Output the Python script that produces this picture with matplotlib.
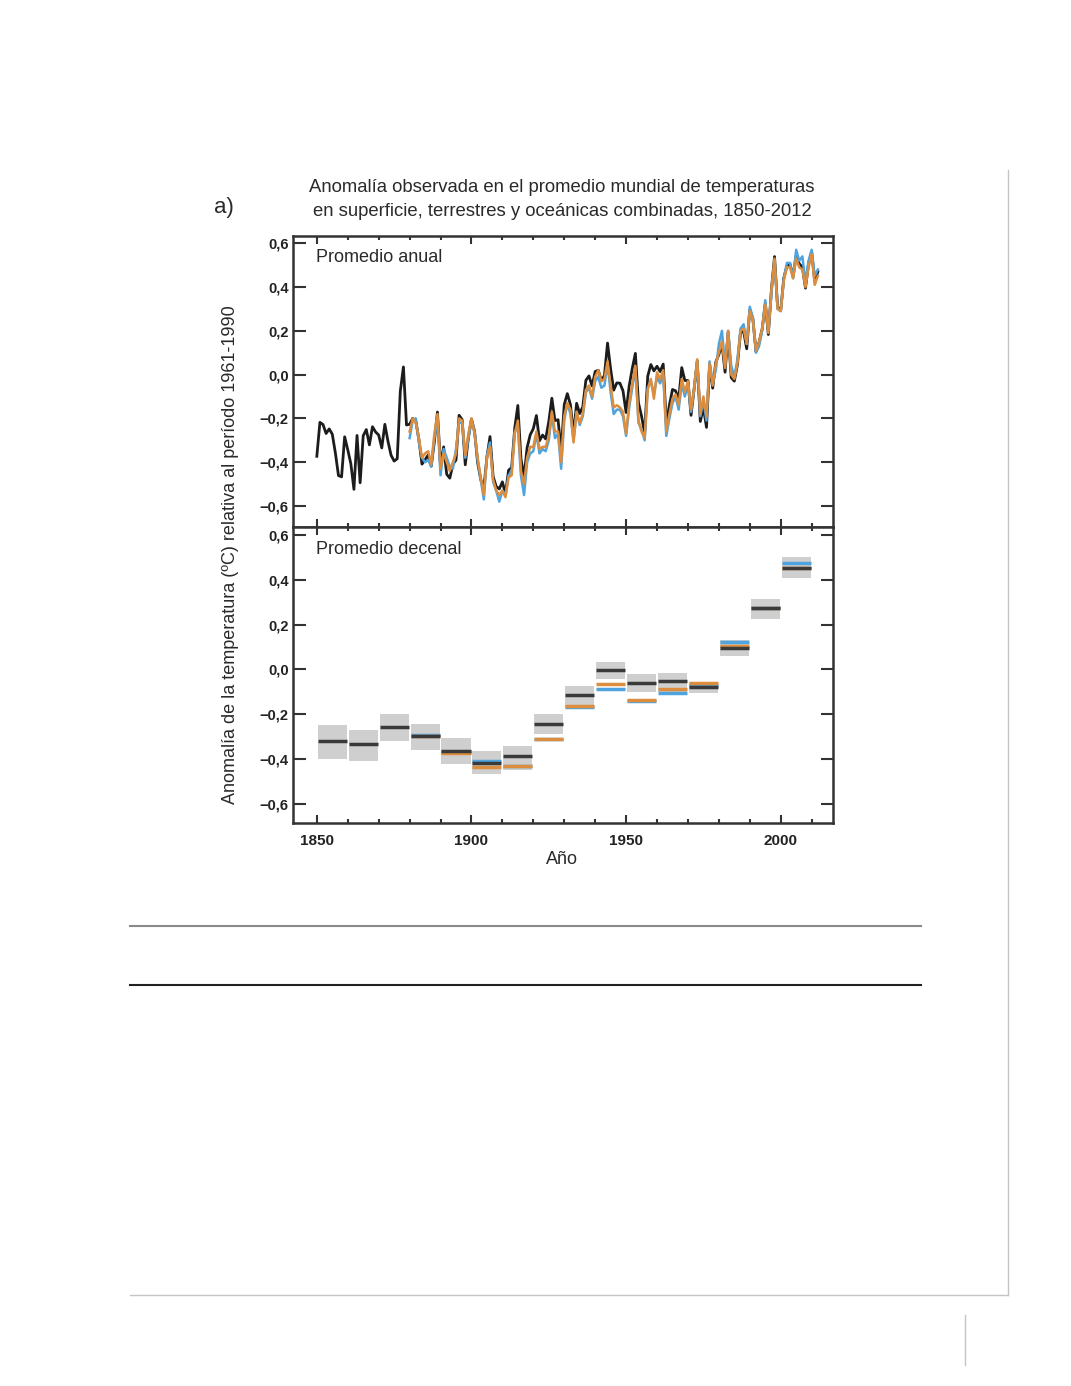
import matplotlib
matplotlib.use("Agg")
import matplotlib.pyplot as plt
import numpy as np
from matplotlib.ticker import MultipleLocator, FuncFormatter
from matplotlib.lines import Line2D

plt.rcParams['font.family'] = ['Liberation Sans', 'DejaVu Sans']

# ---------------- data ----------------
years_black = list(range(1850, 2013))
anom_black = [
    -0.373, -0.218, -0.228, -0.269, -0.248, -0.272, -0.358, -0.461, -0.467, -0.284,
    -0.343, -0.407, -0.524, -0.278, -0.494, -0.279, -0.251, -0.321, -0.238, -0.262,
    -0.276, -0.335, -0.227, -0.304, -0.368, -0.395, -0.384, -0.075, 0.035, -0.230,
    -0.227, -0.200, -0.213, -0.296, -0.409, -0.389, -0.367, -0.418, -0.307, -0.171,
    -0.416, -0.330, -0.455, -0.473, -0.410, -0.390, -0.186, -0.206, -0.412, -0.289,
    -0.203, -0.259, -0.402, -0.479, -0.520, -0.377, -0.283, -0.465, -0.511, -0.522,
    -0.490, -0.544, -0.437, -0.424, -0.244, -0.141, -0.383, -0.468, -0.333, -0.275,
    -0.247, -0.187, -0.302, -0.276, -0.294, -0.215, -0.108, -0.210, -0.206, -0.350,
    -0.137, -0.087, -0.137, -0.273, -0.131, -0.178, -0.147, -0.026, -0.006, -0.052,
    0.014, 0.020, -0.027, -0.004, 0.144, 0.025, -0.071, -0.038, -0.039, -0.074,
    -0.173, -0.052, 0.028, 0.097, -0.129, -0.190, -0.267, -0.007, 0.046, 0.017,
    0.038, 0.014, 0.048, -0.223, -0.140, -0.068, -0.074, -0.113, 0.032, -0.027,
    -0.027, -0.186, -0.065, 0.062, -0.214, -0.149, -0.241, 0.047, -0.062, 0.057,
    0.092, 0.140, 0.011, 0.194, -0.014, -0.030, 0.045, 0.192, 0.198, 0.118,
    0.296, 0.254, 0.105, 0.148, 0.208, 0.325, 0.183, 0.390, 0.539, 0.306,
    0.294, 0.441, 0.496, 0.505, 0.447, 0.545, 0.506, 0.491, 0.395, 0.506,
    0.560, 0.425, 0.470,
]

years_color = list(range(1880, 2013))
anom_orange = [
    -0.26, -0.20, -0.22, -0.29, -0.38, -0.36, -0.35, -0.41, -0.27, -0.18,
    -0.43, -0.36, -0.40, -0.44, -0.40, -0.36, -0.20, -0.21, -0.37, -0.27,
    -0.20, -0.27, -0.38, -0.47, -0.55, -0.38, -0.33, -0.48, -0.53, -0.55,
    -0.53, -0.56, -0.47, -0.46, -0.27, -0.21, -0.44, -0.50, -0.38, -0.33,
    -0.33, -0.26, -0.34, -0.33, -0.33, -0.28, -0.17, -0.26, -0.26, -0.40,
    -0.19, -0.13, -0.16, -0.31, -0.17, -0.22, -0.18, -0.07, -0.05, -0.10,
    -0.01, 0.02, -0.03, -0.02, 0.06, -0.05, -0.15, -0.14, -0.15, -0.17,
    -0.27, -0.13, -0.04, 0.04, -0.21, -0.26, -0.29, -0.07, -0.02, -0.11,
    0.01, -0.02, 0.02, -0.26, -0.18, -0.11, -0.09, -0.14, -0.02, -0.08,
    -0.03, -0.16, -0.06, 0.07, -0.18, -0.10, -0.19, 0.05, -0.05, 0.05,
    0.10, 0.15, 0.03, 0.20, 0.00, -0.02, 0.05, 0.20, 0.21, 0.14,
    0.29, 0.25, 0.11, 0.15, 0.21, 0.32, 0.19, 0.39, 0.53, 0.30,
    0.29, 0.43, 0.49, 0.49, 0.44, 0.53, 0.49, 0.48, 0.40, 0.49,
    0.55, 0.41, 0.45,
]
anom_blue = [
    -0.29, -0.21, -0.20, -0.31, -0.38, -0.40, -0.39, -0.42, -0.29, -0.20,
    -0.46, -0.34, -0.38, -0.42, -0.43, -0.34, -0.22, -0.22, -0.38, -0.29,
    -0.21, -0.26, -0.39, -0.48, -0.57, -0.37, -0.31, -0.49, -0.53, -0.58,
    -0.53, -0.55, -0.46, -0.44, -0.26, -0.24, -0.46, -0.55, -0.40, -0.36,
    -0.35, -0.27, -0.36, -0.34, -0.35, -0.30, -0.18, -0.29, -0.27, -0.43,
    -0.21, -0.13, -0.18, -0.30, -0.17, -0.23, -0.19, -0.08, -0.06, -0.11,
    -0.03, -0.01, -0.06, -0.05, 0.05, -0.08, -0.18, -0.16, -0.16, -0.19,
    -0.28, -0.15, -0.06, 0.03, -0.22, -0.25, -0.30, -0.06, -0.03, -0.09,
    -0.01, -0.04, 0.00, -0.28, -0.20, -0.13, -0.10, -0.16, -0.04, -0.10,
    -0.04, -0.17, -0.07, 0.06, -0.19, -0.12, -0.21, 0.06, -0.04, 0.02,
    0.14, 0.20, 0.04, 0.20, 0.04, -0.01, 0.07, 0.21, 0.23, 0.14,
    0.31, 0.26, 0.10, 0.13, 0.20, 0.34, 0.20, 0.37, 0.52, 0.30,
    0.29, 0.44, 0.51, 0.51, 0.44, 0.57, 0.52, 0.54, 0.42, 0.52,
    0.57, 0.45, 0.48,
]

decades = [1850, 1860, 1870, 1880, 1890, 1900, 1910, 1920,
           1930, 1940, 1950, 1960, 1970, 1980, 1990, 2000]
dec_black = [-0.320, -0.336, -0.260, -0.296, -0.363, -0.418, -0.388, -0.243,
             -0.116, -0.003, -0.061, -0.054, -0.079, 0.096, 0.272, 0.451]
dec_lo = [-0.400, -0.410, -0.321, -0.360, -0.425, -0.470, -0.452, -0.288,
          -0.169, -0.042, -0.101, -0.100, -0.107, 0.058, 0.225, 0.406]
dec_hi = [-0.251, -0.270, -0.198, -0.243, -0.305, -0.363, -0.342, -0.200,
          -0.075, 0.034, -0.022, -0.016, -0.055, 0.130, 0.313, 0.503]
decades_color = [1880, 1890, 1900, 1910, 1920, 1930, 1940, 1950,
                 1960, 1970, 1980, 1990, 2000]
dec_orange = [-0.300, -0.373, -0.437, -0.433, -0.313, -0.163, -0.064, -0.136,
              -0.087, -0.060, 0.106, 0.272, 0.451]
dec_blue = [-0.295, -0.370, -0.410, -0.430, -0.310, -0.170, -0.087, -0.140,
            -0.106, -0.070, 0.120, 0.272, 0.473]

# ---------------- figure ----------------
W, H = 1071, 1386
fig = plt.figure(figsize=(W / 100, H / 100), dpi=100)
fig.patch.set_facecolor('white')

def fx(px):
    return px / W

def fy(py):
    return 1 - py / H

left, right = 292.7, 833.3
ax1 = fig.add_axes([fx(left), fy(527), fx(right - left), fy(236) - fy(527)])
ax2 = fig.add_axes([fx(left), fy(823), fx(right - left), fy(527) - fy(823)])

C_BLACK = '#1c1c1c'
C_ORANGE = '#dc8d3e'
C_BLUE = '#4fa3de'
C_BOX = '#cfcfcf'
C_TXT = '#2a2a2a'
C_FRAME = '#333333'

# annual
ax1.plot(years_black, anom_black, color=C_BLACK, lw=2.0, zorder=2)
ax1.plot(years_color, anom_blue, color=C_BLUE, lw=1.8, zorder=3)
ax1.plot(years_color, anom_orange, color=C_ORANGE, lw=1.8, zorder=4)

# decadal
ax2.bar(np.array(decades) + 5, np.array(dec_hi) - np.array(dec_lo), bottom=dec_lo,
        width=9.4, color=C_BOX, edgecolor='none', zorder=1)
ax2.hlines(dec_blue, np.array(decades_color) + 0.3, np.array(decades_color) + 9.7,
           color=C_BLUE, lw=2.5, zorder=2)
ax2.hlines(dec_orange, np.array(decades_color) + 0.3, np.array(decades_color) + 9.7,
           color=C_ORANGE, lw=2.5, zorder=3)
ax2.hlines(dec_black, np.array(decades) + 0.3, np.array(decades) + 9.7,
           color='#3a3a3a', lw=2.5, zorder=4)

fmt = FuncFormatter(lambda v, p: ('\u2212' if v < -1e-9 else '') + f"{abs(v):.1f}".replace('.', ','))

for ax, ylim in ((ax1, (-0.696, 0.633)), (ax2, (-0.687, 0.636))):
    ax.set_xlim(1842.2, 2017.0)
    ax.set_ylim(*ylim)
    ax.xaxis.set_major_locator(MultipleLocator(50))
    ax.xaxis.set_minor_locator(MultipleLocator(10))
    ax.yaxis.set_major_locator(MultipleLocator(0.2))
    ax.yaxis.set_major_formatter(fmt)
    ax.tick_params(axis='y', which='major', direction='in', length=9, width=1.5,
                   left=True, right=True, labelsize=10.5, labelcolor='#222222',
                   color=C_FRAME, pad=3)
    ax.tick_params(axis='x', which='major', direction='in', length=6, width=1.5,
                   top=True, bottom=True, color=C_FRAME)
    ax.tick_params(axis='x', which='minor', direction='in', length=3, width=1.5,
                   top=True, bottom=True, color=C_FRAME)
    for lab in ax.get_yticklabels():
        lab.set_fontweight('bold')
    for s in ax.spines.values():
        s.set_linewidth(1.8)
        s.set_color(C_FRAME)

ax1.tick_params(axis='x', which='both', labelbottom=False)
ax2.tick_params(axis='x', which='major', labelsize=11, labelcolor='#222222', pad=8)
for lab in ax2.get_xticklabels():
    lab.set_fontweight('bold')

ax1.text(0.043, 0.925, 'Promedio anual', transform=ax1.transAxes, fontsize=13,
         color=C_TXT, ha='left', va='center')
ax2.text(0.043, 0.925, 'Promedio decenal', transform=ax2.transAxes, fontsize=13,
         color=C_TXT, ha='left', va='center')

fig.text(fx(562), fy(188), 'Anomalía observada en el promedio mundial de temperaturas',
         ha='center', va='center', fontsize=13.3, color=C_TXT)
fig.text(fx(562), fy(211), 'en superficie, terrestres y oceánicas combinadas, 1850-2012',
         ha='center', va='center', fontsize=13.3, color=C_TXT)
fig.text(fx(224), fy(208), 'a)', ha='center', va='center', fontsize=16, color=C_TXT)
fig.text(fx(231), fy(555), 'Anomalía de la temperatura (ºC) relativa al período 1961-1990',
         ha='center', va='center', rotation=90, fontsize=13, color=C_TXT)
fig.text(fx(562), fy(859), 'Año', ha='center', va='center', fontsize=13, color=C_TXT)

# page decorations
fig.add_artist(Line2D([fx(130), fx(921)], [fy(926), fy(926)], color='#8a8a8a', lw=1.5))
fig.add_artist(Line2D([fx(130), fx(921)], [fy(985), fy(985)], color='#222222', lw=1.5))
fig.add_artist(Line2D([fx(1008), fx(1008)], [fy(170), fy(1295)], color='#c4c4c4', lw=1.0))
fig.add_artist(Line2D([fx(130), fx(1008)], [fy(1295), fy(1295)], color='#c4c4c4', lw=1.0))
fig.add_artist(Line2D([fx(965), fx(965)], [fy(1315), fy(1365)], color='#c4c4c4', lw=1.0))

fig.savefig('out.png', dpi=100, facecolor='white')
